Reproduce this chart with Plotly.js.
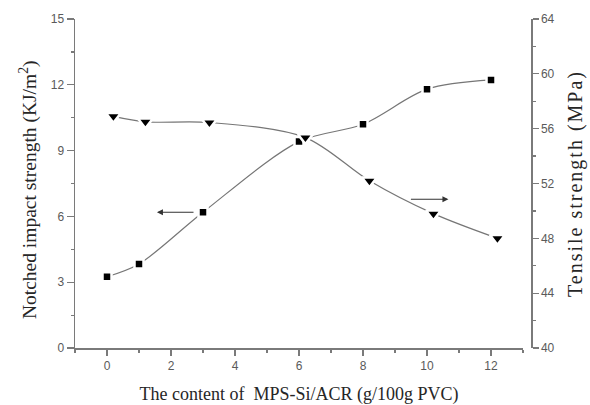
<!DOCTYPE html>
<html>
<head>
<meta charset="utf-8">
<script src="https://cdn.plot.ly/plotly-3.0.1.min.js"></script>
<style>
  html, body { margin: 0; padding: 0; background: #fff; }
  #chart { width: 590px; height: 405px; }
  /* the right-hand axis title is set wide */
  #chart .g-y2title text { letter-spacing: 2px; }
</style>
</head>
<body>
<div id="chart"></div>
<script>
// MPS-Si/ACR content (g/100g PVC)
const contentImpact = [0, 1, 3, 6, 8, 10, 12];
const impactStrength = [3.25, 3.83, 6.19, 9.41, 10.2, 11.8, 12.22];   // KJ/m2
const contentTensile = [0.2, 1.2, 3.2, 6.2, 8.2, 10.2, 12.2];
const tensileStrength = [56.9, 56.5, 56.45, 55.35, 52.2, 49.8, 48.0]; // MPa

const xTicks = [0, 2, 4, 6, 8, 10, 12];
const leftTicks = [0, 3, 6, 9, 12, 15];
const rightTicks = [40, 44, 48, 52, 56, 60, 64];

const axisGray = '#7a7a7a';
const tickFont = { family: 'Liberation Sans, Arial, sans-serif', size: 12, color: '#5a5a5a' };
const serif = 'Liberation Serif, Times New Roman, serif';
const xDomain = [0, 0.9825];

const lineStyle = { color: '#767676', width: 1.2, shape: 'spline', smoothing: 0.9 };

const traces = [
  {
    x: contentImpact, y: impactStrength, xaxis: 'x', yaxis: 'y',
    mode: 'lines+markers', type: 'scatter',
    line: lineStyle,
    marker: { symbol: 'square', size: 9, color: '#000', line: { color: '#fff', width: 2.5 } },
    hoverinfo: 'x+y'
  },
  {
    x: contentTensile, y: tensileStrength, xaxis: 'x', yaxis: 'y2',
    mode: 'lines+markers', type: 'scatter',
    line: lineStyle,
    marker: { symbol: 'triangle-down', size: 13, color: '#000', line: { color: '#fff', width: 2.5 } },
    hoverinfo: 'x+y'
  }
];

const layout = {
  width: 590, height: 405,
  margin: { l: 75, r: 59, t: 19, b: 57 },
  paper_bgcolor: '#fff', plot_bgcolor: '#fff',
  showlegend: false,
  xaxis: {
    domain: xDomain, range: [-1, 13],
    tickvals: xTicks, ticktext: xTicks.map(String),
    ticks: 'outside', ticklen: 6, tickwidth: 1.2, tickcolor: axisGray,
    minor: { tickvals: [-1, 1, 3, 5, 7, 9, 11, 13], ticks: 'outside', ticklen: 3, tickcolor: axisGray },
    showline: true, linecolor: axisGray, linewidth: 1.5,
    showgrid: false, zeroline: false,
    tickfont: tickFont,
    title: { text: 'The content of  MPS-Si/ACR (g/100g PVC)',
             font: { family: serif, size: 18, color: '#262626' }, standoff: 15 }
  },
  xaxis2: {
    domain: xDomain, range: [-1, 13], overlaying: 'x', side: 'top', anchor: 'y',
    tickvals: xTicks, ticks: 'inside', ticklen: 5, tickwidth: 1.2, tickcolor: axisGray,
    showticklabels: false,
    showline: true, linecolor: axisGray, linewidth: 1.5,
    showgrid: false, zeroline: false
  },
  yaxis: {
    range: [0, 15],
    tickvals: leftTicks, ticktext: leftTicks.map(String),
    ticks: 'outside', ticklen: 7, tickwidth: 1.2, tickcolor: axisGray,
    minor: { dtick: 1.5, tick0: 0, ticks: 'outside', ticklen: 3, tickcolor: axisGray },
    showline: true, linecolor: axisGray, linewidth: 1.5,
    showgrid: false, zeroline: false,
    tickfont: tickFont
  },
  yaxis2: {
    range: [40, 64], overlaying: 'y', side: 'right', anchor: 'free', position: 1,
    tickvals: rightTicks, ticktext: rightTicks.map(String),
    ticks: 'outside', ticklen: 6, tickwidth: 1.2, tickcolor: axisGray,
    minor: { dtick: 2, tick0: 40, ticks: 'outside', ticklen: 3, tickcolor: axisGray },
    showline: true, linecolor: axisGray, linewidth: 1.5,
    showgrid: false, zeroline: false,
    tickfont: tickFont,
    title: { text: 'Tensile strength (MPa)',
             font: { family: serif, size: 20, color: '#262626' }, standoff: 14 }
  },
  annotations: [
    // left axis title, set slightly below the axis centre
    { xref: 'paper', yref: 'paper', x: -0.103, y: 0.48, xanchor: 'center', yanchor: 'middle',
      textangle: -90, showarrow: false,
      text: 'Notched impact strength (KJ/m<sup>2</sup>)',
      font: { family: serif, size: 19.5, color: '#262626' } },
    // arrow pointing to the left-hand axis series
    { xref: 'x', yref: 'y', axref: 'x', ayref: 'y', x: 1.56, y: 6.19, ax: 2.75, ay: 6.19,
      text: '', showarrow: true, arrowhead: 2, arrowsize: 1, arrowwidth: 1.2, arrowcolor: '#333' },
    // arrow pointing to the right-hand axis series
    { xref: 'x', yref: 'y2', axref: 'x', ayref: 'y2', x: 10.67, y: 50.85, ax: 9.45, ay: 50.85,
      text: '', showarrow: true, arrowhead: 2, arrowsize: 1, arrowwidth: 1.2, arrowcolor: '#333' }
  ]
};

Plotly.newPlot('chart', traces, layout, { displayModeBar: false, staticPlot: true });
</script>
</body>
</html>
